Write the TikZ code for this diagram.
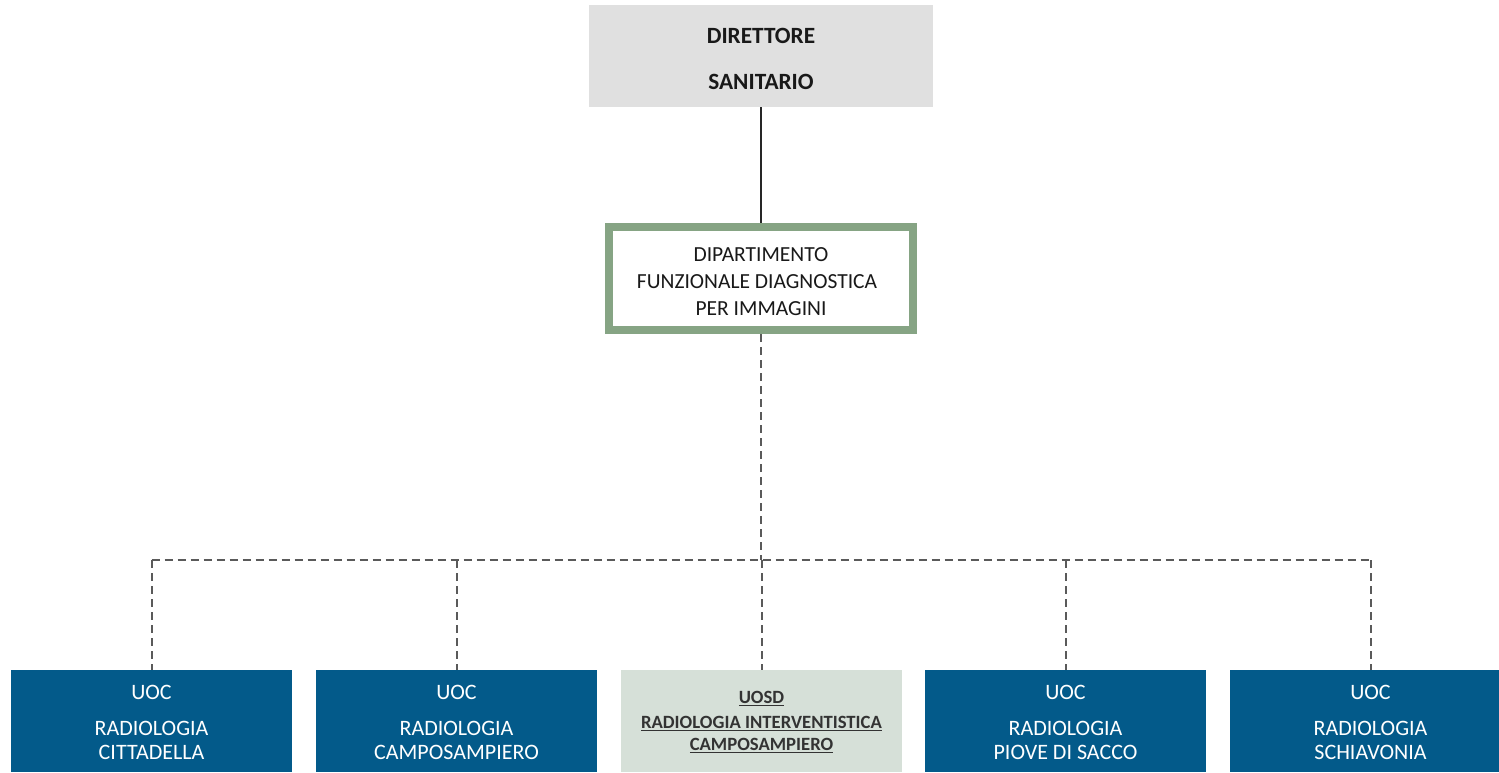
\documentclass[tikz,border=0pt]{standalone}
\usepackage{fontspec}
\setmainfont{Carlito}
\usetikzlibrary{calc}
\definecolor{topgray}{RGB}{224,224,224}
\definecolor{deptgreen}{RGB}{134,164,132}
\definecolor{uocblue}{RGB}{3,90,138}
\definecolor{uosdgreen}{RGB}{214,224,216}
\definecolor{linkgray}{RGB}{90,90,90}
\tikzset{
  box/.style={draw=none, inner sep=0pt, minimum width=281pt, minimum height=102pt},
  uocbox/.style={box, fill=uocblue},
  uosdbox/.style={box, fill=uosdgreen},
  txt/.style={inner sep=0pt, font=\fontsize{21.5}{24}\selectfont, text=black!90},
  wtxt/.style={inner sep=0pt, font=\fontsize{22}{24}\selectfont, text=white},
  btxt/.style={inner sep=0pt, font=\fontsize{23.3}{26}\selectfont\bfseries, text=black!90},
  utxt/.style={inner sep=0pt, font=\fontsize{18.7}{22}\selectfont\bfseries, text=black!80},
  link/.style={draw=linkgray, line width=2pt, dash pattern=on 8pt off 5pt},
}
\begin{document}
\begin{tikzpicture}[x=1pt, y=-1pt]
\useasboundingbox (0,0) rectangle (1499,772);

% top: Direttore Sanitario
\node[fill=topgray, inner sep=0pt, minimum width=344pt, minimum height=102pt] (dir) at (761,56) {};
\node[btxt] (dir1) at (761,36) {DIRETTORE};
\node[btxt] (dir2) at (761,81.5) {SANITARIO};

% department
\node[draw=deptgreen, line width=8pt, fill=white, inner sep=0pt,
      minimum width=304pt, minimum height=103pt] (dept) at (761,278.5) {};
\node[txt] (dept1) at (761,255) {DIPARTIMENTO};
\node[txt] (dept2) at (757,281.5) {FUNZIONALE\ DIAGNOSTICA};
\node[txt] (dept3) at (761,308.5) {PER IMMAGINI};

\draw[line width=2pt, black!85] (dir.south) -- (dept.north);

% units
\node[uocbox] (u1) at (151.5,721) {};
\node[uocbox] (u2) at (456.5,721) {};
\node[uosdbox] (u3) at (761.5,721) {};
\node[uocbox] (u4) at (1065.5,721) {};
\node[uocbox] (u5) at (1370.5,721) {};

\foreach \u/\b/\c in {u1/RADIOLOGIA/CITTADELLA, u2/RADIOLOGIA/CAMPOSAMPIERO,
                      u4/RADIOLOGIA/PIOVE DI SACCO, u5/RADIOLOGIA/SCHIAVONIA}{
  \node[wtxt] (\u a) at ($(\u.north)+(0,23)$) {UOC};
  \node[wtxt] (\u b) at ($(\u.north)+(0,59)$) {\b};
  \node[wtxt] (\u c) at ($(\u.north)+(0,82.5)$) {\c};
}
\node[utxt] (u3a) at ($(u3.north)+(0,28.5)$) {\underline{UOSD}};
\node[utxt] (u3b) at ($(u3.north)+(0,54)$) {\underline{RADIOLOGIA INTERVENTISTICA}};
\node[utxt] (u3c) at ($(u3.north)+(0,76)$) {\underline{CAMPOSAMPIERO}};

% dashed links
\coordinate (bus) at (761.5,560);
\draw[link] (dept.south) -- (dept.south |- bus);
\draw[link] (u1.north |- bus) -- (u5.north |- bus);
\foreach \u in {u1,u2,u3,u4,u5}{
  \draw[link] (\u.north |- bus) -- (\u.north);
}
\end{tikzpicture}
\end{document}
